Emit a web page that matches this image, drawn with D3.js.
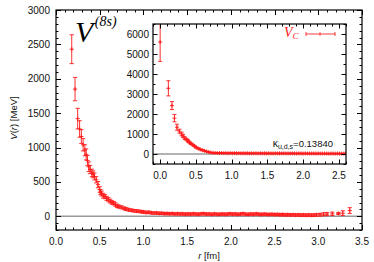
<!DOCTYPE html>
<html><head><meta charset="utf-8">
<script src="https://cdn.jsdelivr.net/npm/d3@7"></script>
<style>body{margin:0;background:#fff}svg{display:block}</style>
</head><body>
<script>
// ---------- DATA ----------
const mainR = [0.18,0.218,0.248,0.27,0.29,0.31,0.33,0.345,0.36,0.375,0.39,0.41,0.425,0.44,0.46,0.48,0.50,0.51,0.52,0.54,0.56,0.58,0.60,0.62,0.64,0.66,0.68,0.70,0.72,0.75,0.78,0.80,0.83,0.86,0.89,0.92,0.95,0.98,
1.00,1.03,1.06,1.09,1.12,1.15,1.18,1.21,1.24,1.27,1.30,1.33,1.36,1.39,1.42,1.45,1.48,1.51,1.54,1.57,1.60,1.63,1.66,1.69,1.72,1.75,1.78,1.81,1.84,1.87,1.90,1.93,1.96,1.99,2.02,2.05,2.08,2.11,2.14,2.17,2.20,2.23,2.26,2.29,2.32,2.35,2.38,2.41,2.44,2.47,2.50,2.53,2.56,2.59,2.62,2.65,2.68,2.71,2.74,2.77,2.80,2.83,2.86,2.89,2.92,2.95,2.98,
3.02,3.06,3.10,3.16,3.23,3.28,3.36];
const mainV = [2430,1850,1420,1270,1160,1040,960,900,810,720,680,630,610,580,530,460,390,350,330,300,285,260,240,220,200,190,170,150,140,130,115,105,95,88,80,75,72,65,
62,55,58,50,46,48,42,44,38,40,36,39,34,37,33,35,30,34,31,36,32,29,35,38,31,33,28,34,30,27,33,29,31,36,30,34,28,32,37,30,27,33,29,35,30,26,31,28,25,29,24,27,22,25,20,23,19,21,18,20,17,19,16,18,15,17,20,
22,30,32,35,40,45,83];
const mainE = [210,170,150,120,100,90,80,80,75,70,60,55,50,50,45,45,40,35,35,35,30,30,30,28,26,25,25,24,22,22,20,20,20,18,18,18,18,18,
17,17,17,17,16,16,16,16,16,16,16,16,16,16,16,16,16,16,16,16,16,16,16,16,16,16,16,16,16,16,16,16,16,16,16,16,16,16,16,16,16,16,16,16,16,16,16,16,16,16,16,16,17,17,17,17,17,17,17,17,18,18,18,18,18,18,18,
20,22,22,25,15,35,42];

const insetR = [0.0,0.115,0.165,0.20,0.235,0.27,0.30,0.32,0.345,0.37,0.39,0.41,0.43,0.46,0.48,0.50,0.53,0.56,0.59,0.62,0.65,0.68,0.71,0.74,0.77,
0.80,0.83,0.86,0.89,0.92,0.95,0.98,1.01,1.04,1.07,1.10,1.13,1.16,1.19,1.22,1.25,1.28,1.31,1.34,1.37,1.40,1.43,1.46,1.49,1.52,1.55,1.58,1.61,1.64,1.67,1.70,1.73,1.76,1.79,1.82,1.85,1.88,1.91,1.94,1.97,2.00,2.03,2.06,2.09,2.12,2.15,2.18,2.21,2.24,2.27,2.30,2.33,2.36,2.39,2.42,2.45,2.48,2.51,2.54,2.57,2.60];
const insetV = [5600,3285,2420,1790,1340,1140,1000,900,790,720,650,590,520,450,400,330,280,230,190,160,125,95,70,60,55,
50,45,48,40,42,38,44,36,40,35,38,33,37,32,36,30,34,31,35,29,33,30,34,28,32,30,27,33,29,31,28,32,27,30,26,31,28,25,29,27,24,28,26,23,27,25,22,26,24,21,25,23,20,24,22,19,23,21,20,22,20];
const insetE = [970,380,200,180,150,100,90,80,70,60,55,50,45,40,35,30,30,28,25,25,22,20,20,20,18,
18,18,18,18,18,18,18,18,18,18,18,18,18,18,18,18,18,18,18,18,18,18,18,18,18,18,18,18,18,18,18,18,18,18,18,18,18,18,18,18,18,18,18,18,18,18,18,18,18,18,18,18,18,18,18,18,18,18,18,18,18];

const mainXTicks = [0.0,0.5,1.0,1.5,2.0,2.5,3.0,3.5];
const mainYTicks = [0,500,1000,1500,2000,2500,3000];
const insetXTicks = [0.0,0.5,1.0,1.5,2.0,2.5];
const insetYTicks = [0,1000,2000,3000,4000,5000,6000];

// ---------- DRAW ----------
const W = 374, H = 262;
const svg = d3.select("body").append("svg").attr("width", W).attr("height", H)
  .style("font-family", "'Liberation Sans', Arial, sans-serif");

const RED = "#ff1a1a";

function frame(g, x, y, xMaj, xMinStep, yMaj, yMinStep, majLen, minLen) {
  const [x0, x1] = x.range(), [y0, y1] = y.range();
  const xd = x.domain(), yd = y.domain();
  const tk = g.append("g").attr("stroke", "#000").attr("stroke-width", 1);
  const xs = d3.range(Math.ceil(xd[0]/xMinStep - 1e-6), Math.floor(xd[1]/xMinStep + 1e-6) + 1).map(i => +(i * xMinStep).toFixed(4));
  xs.forEach(v => {
    const isMaj = xMaj.some(m => Math.abs(m - v) < 1e-6);
    const L = isMaj ? majLen : minLen;
    const px = Math.round(x(v)) + 0.5;
    tk.append("line").attr("x1", px).attr("x2", px).attr("y1", y0).attr("y2", y0 - L);
    tk.append("line").attr("x1", px).attr("x2", px).attr("y1", y1).attr("y2", y1 + L);
  });
  const ys = d3.range(Math.ceil(yd[0]/yMinStep - 1e-6), Math.floor(yd[1]/yMinStep + 1e-6) + 1).map(i => i * yMinStep);
  ys.forEach(v => {
    const isMaj = yMaj.includes(v);
    const L = isMaj ? majLen : minLen;
    const py = Math.round(y(v)) + 0.5;
    tk.append("line").attr("x1", x0).attr("x2", x0 + L).attr("y1", py).attr("y2", py);
    tk.append("line").attr("x1", x1).attr("x2", x1 - L).attr("y1", py).attr("y2", py);
  });
  g.append("rect").attr("x", x0).attr("y", y1).attr("width", x1 - x0).attr("height", y0 - y1)
    .attr("fill", "none").attr("stroke", "#000").attr("stroke-width", 1.2);
}

function errbars(g, x, y, R, V, E, cap, mk, clipId) {
  const gg = g.append("g").attr("stroke", RED).attr("stroke-width", 1).attr("stroke-opacity", 0.9)
    .attr("clip-path", `url(#${clipId})`);
  R.forEach((r, i) => {
    const px = x(r), pv = y(V[i]), lo = y(V[i] - E[i]), hi = y(V[i] + E[i]);
    gg.append("line").attr("x1", px).attr("x2", px).attr("y1", lo).attr("y2", hi);
    gg.append("line").attr("x1", px - cap).attr("x2", px + cap).attr("y1", lo).attr("y2", lo);
    gg.append("line").attr("x1", px - cap).attr("x2", px + cap).attr("y1", hi).attr("y2", hi);
    gg.append("line").attr("x1", px - mk).attr("x2", px + mk).attr("y1", pv).attr("y2", pv);
    gg.append("line").attr("x1", px).attr("x2", px).attr("y1", pv - mk).attr("y2", pv + mk);
  });
}

// Main plot
const x = d3.scaleLinear().domain([0, 3.5]).range([56, 362]);
const y = d3.scaleLinear().domain([-200, 3000]).range([230, 10]);
const defs = svg.append("defs");
defs.append("clipPath").attr("id", "cMain").append("rect")
  .attr("x", 56).attr("y", 10).attr("width", 306).attr("height", 220);
defs.append("clipPath").attr("id", "cIn").append("rect")
  .attr("x", 153).attr("y", 24).attr("width", 193).attr("height", 140);

const gm = svg.append("g");
gm.append("line").attr("x1", 56).attr("x2", 362).attr("y1", y(0)).attr("y2", y(0))
  .attr("stroke", "#999").attr("stroke-width", 1.5);
errbars(gm, x, y, mainR, mainV, mainE, 2.1, 2.1, "cMain");
frame(gm, x, y, mainXTicks, 0.1, mainYTicks, 100, 5, 2.5);

gm.selectAll(".xt").data(mainXTicks).enter().append("text")
  .attr("x", d => x(d)).attr("y", 245).attr("text-anchor", "middle")
  .attr("font-size", 10).attr("fill", "#111").text(d => d.toFixed(1));
gm.selectAll(".yt").data(mainYTicks).enter().append("text")
  .attr("x", 50).attr("y", d => y(d) + 3.6).attr("text-anchor", "end")
  .attr("font-size", 10).attr("fill", "#111").text(d => d);

// axis titles
const xl = svg.append("text").attr("x", 209).attr("y", 259).attr("text-anchor", "middle")
  .attr("font-size", 9.5).attr("fill", "#111");
xl.append("tspan").attr("font-style", "italic").text("r");
xl.append("tspan").text(" [fm]");
const yl = svg.append("text").attr("transform", "translate(17,118) rotate(-90)")
  .attr("text-anchor", "middle").attr("font-size", 9.5).attr("fill", "#111");
yl.append("tspan").attr("font-style", "italic").text("V");
yl.append("tspan").text("(");
yl.append("tspan").attr("font-style", "italic").text("r");
yl.append("tspan").text(") [MeV]");

// Title V^(8s)
const tt = svg.append("text").attr("x", 75).attr("y", 42)
  .attr("font-family", "'Liberation Serif', 'Times New Roman', serif").attr("font-style", "italic").attr("fill", "#000");
tt.append("tspan").attr("font-size", 30).text("V");
tt.append("tspan").attr("font-size", 14).attr("dy", -16).attr("dx", 1.5).text("(8s)");

// Inset
const xi = d3.scaleLinear().domain([-0.1, 2.6]).range([153, 346]);
const yi = d3.scaleLinear().domain([-500, 6500]).range([164, 24]);
const gi = svg.append("g");
gi.append("rect").attr("x", 153).attr("y", 24).attr("width", 193).attr("height", 140).attr("fill", "#fff");
gi.append("line").attr("x1", 153).attr("x2", 346).attr("y1", yi(0)).attr("y2", yi(0))
  .attr("stroke", "#999").attr("stroke-width", 1.5);
errbars(gi, xi, yi, insetR, insetV, insetE, 2, 2, "cIn");
frame(gi, xi, yi, insetXTicks, 0.1, insetYTicks, 500, 4.5, 2.5);
gi.selectAll(".xt").data(insetXTicks).enter().append("text")
  .attr("x", d => xi(d)).attr("y", 179).attr("text-anchor", "middle")
  .attr("font-size", 10).attr("fill", "#111").text(d => d.toFixed(1));
gi.selectAll(".yt").data(insetYTicks).enter().append("text")
  .attr("x", 149).attr("y", d => yi(d) + 3.6).attr("text-anchor", "end")
  .attr("font-size", 10).attr("fill", "#111").text(d => d);

// Legend
const lg = svg.append("text").attr("x", 284).attr("y", 37)
  .attr("font-family", "'Liberation Serif', 'Times New Roman', serif").attr("font-style", "italic").attr("fill", RED);
lg.append("tspan").attr("font-size", 14).text("V");
lg.append("tspan").attr("font-size", 9).attr("dy", 2).text("C");
const lgl = svg.append("g").attr("stroke", RED).attr("stroke-width", 1).attr("stroke-opacity", 0.85);
lgl.append("line").attr("x1", 306).attr("x2", 335).attr("y1", 34).attr("y2", 34);
lgl.append("line").attr("x1", 306).attr("x2", 306).attr("y1", 32).attr("y2", 36);
lgl.append("line").attr("x1", 335).attr("x2", 335).attr("y1", 32).attr("y2", 36);
lgl.append("line").attr("x1", 320).attr("x2", 320).attr("y1", 32.2).attr("y2", 35.8);

// kappa label
const kt = svg.append("text").attr("x", 333).attr("y", 147).attr("text-anchor", "end")
  .attr("font-size", 9.5).attr("fill", "#111");
kt.append("tspan").attr("font-size", 10.5).text("κ");
kt.append("tspan").attr("font-size", 7).attr("dy", 2).text("u,d,s");
kt.append("tspan").attr("dy", -2).text("=0.13840");
</script>
</body></html>
